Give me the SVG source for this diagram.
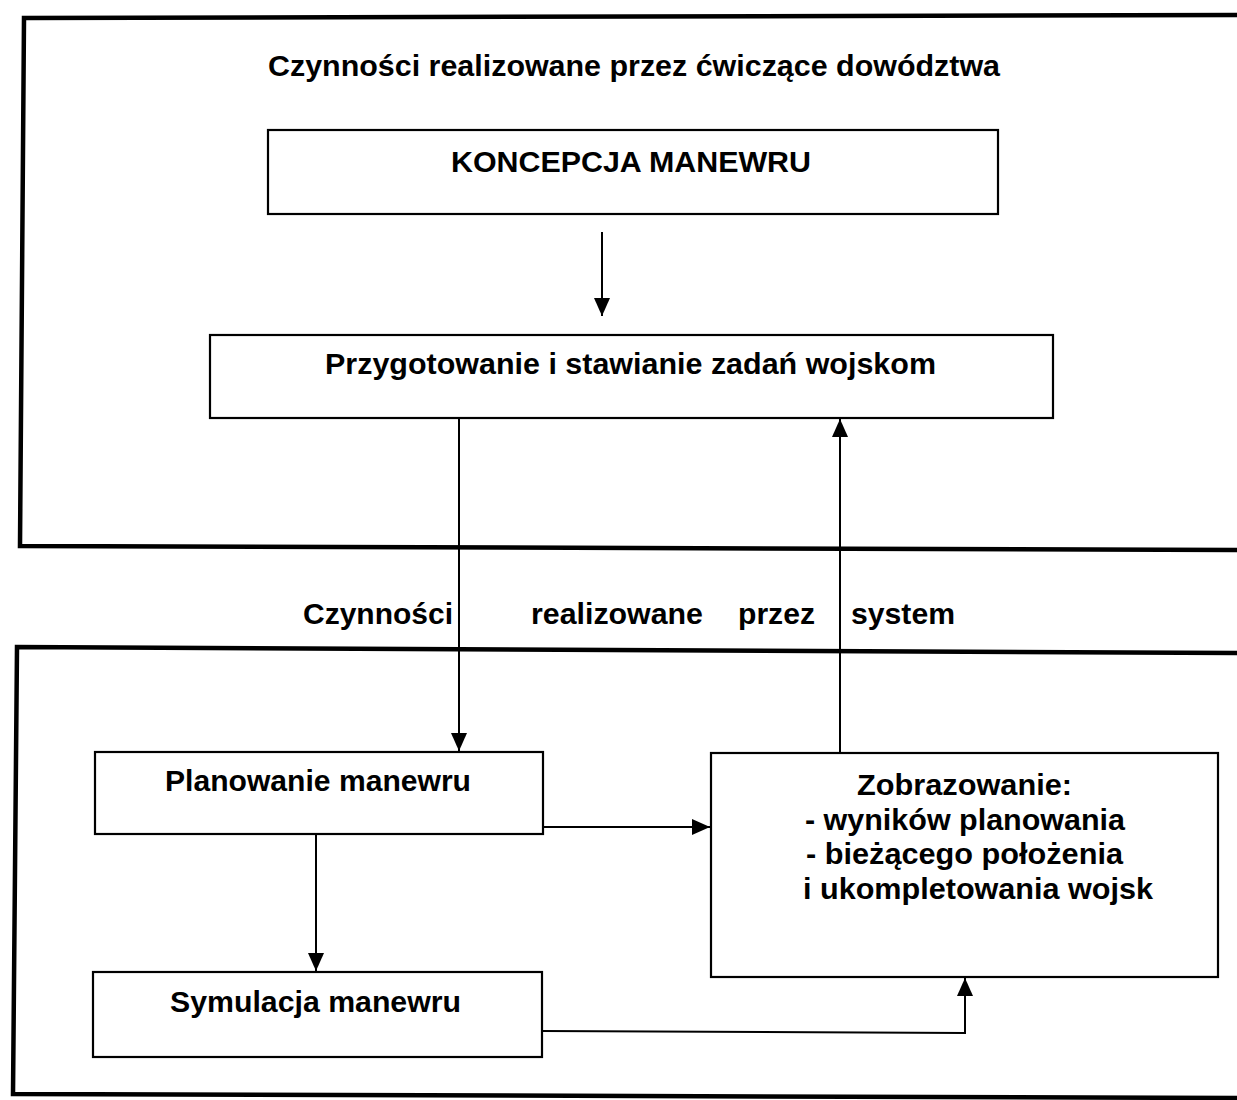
<svg xmlns="http://www.w3.org/2000/svg" width="1237" height="1100" viewBox="0 0 1237 1100">
<style>
.frame{fill:none;stroke:#000;stroke-width:4.5}
.box{fill:#fff;stroke:#000;stroke-width:2.2}
.t{font-family:"Liberation Sans",Arial,sans-serif;font-weight:bold;font-size:29px;fill:#000}
.c{fill:none;stroke:#000;stroke-width:2}
</style>
<defs>
<marker id="ah" viewBox="0 0 18 16" refX="18" refY="8" markerWidth="18" markerHeight="16" markerUnits="userSpaceOnUse" orient="auto">
<path d="M0,0 L18,8 L0,16 z" fill="#000"/>
</marker>
</defs>
<rect width="1237" height="1100" fill="#fff"/>
<g id="frame-top">
<polyline class="frame" points="1237,15 24,18 20,546 1237,550"/>
<text class="t" x="268" y="76" textLength="732" lengthAdjust="spacingAndGlyphs">Czynności realizowane przez ćwiczące dowództwa</text>
</g>
<g id="frame-bottom">
<polyline class="frame" points="1237,653 17,647 13,1094 1237,1098"/>
</g>
<g id="system-label">
<text class="t" x="303" y="624" textLength="150" lengthAdjust="spacingAndGlyphs">Czynności</text>
<text class="t" x="531" y="624" textLength="172" lengthAdjust="spacingAndGlyphs">realizowane</text>
<text class="t" x="738" y="624" textLength="77" lengthAdjust="spacingAndGlyphs">przez</text>
<text class="t" x="851" y="624" textLength="104" lengthAdjust="spacingAndGlyphs">system</text>
</g>
<g id="koncepcja">
<rect class="box" x="268" y="130" width="730" height="84"/>
<text class="t" x="451" y="172" textLength="360" lengthAdjust="spacingAndGlyphs">KONCEPCJA MANEWRU</text>
</g>
<g id="przygotowanie">
<rect class="box" x="210" y="335" width="843" height="83"/>
<text class="t" x="325" y="374" textLength="611" lengthAdjust="spacingAndGlyphs">Przygotowanie i stawianie zadań wojskom</text>
</g>
<g id="planowanie">
<rect class="box" x="95" y="752" width="448" height="82"/>
<text class="t" x="165" y="791" textLength="306" lengthAdjust="spacingAndGlyphs">Planowanie manewru</text>
</g>
<g id="zobrazowanie">
<rect class="box" x="711" y="753" width="507" height="224"/>
<text class="t" x="857" y="795" textLength="215" lengthAdjust="spacingAndGlyphs">Zobrazowanie:</text>
<text class="t" x="805" y="830" textLength="320" lengthAdjust="spacingAndGlyphs">- wyników planowania</text>
<text class="t" x="806" y="864" textLength="317" lengthAdjust="spacingAndGlyphs">- bieżącego położenia</text>
<text class="t" x="803" y="899" textLength="350" lengthAdjust="spacingAndGlyphs">i ukompletowania wojsk</text>
</g>
<g id="symulacja">
<rect class="box" x="93" y="972" width="449" height="85"/>
<text class="t" x="170" y="1012" textLength="291" lengthAdjust="spacingAndGlyphs">Symulacja manewru</text>
</g>
<g id="connectors">
<line class="c" x1="602" y1="232" x2="602" y2="316" marker-end="url(#ah)"/>
<line class="c" x1="459" y1="418" x2="459" y2="751" marker-end="url(#ah)"/>
<line class="c" x1="840" y1="753" x2="840" y2="419" marker-end="url(#ah)"/>
<line class="c" x1="543" y1="827" x2="710" y2="827" marker-end="url(#ah)"/>
<line class="c" x1="316" y1="834" x2="316" y2="971" marker-end="url(#ah)"/>
<polyline class="c" points="542,1031 965,1033 965,978" marker-end="url(#ah)"/>
</g>
</svg>
